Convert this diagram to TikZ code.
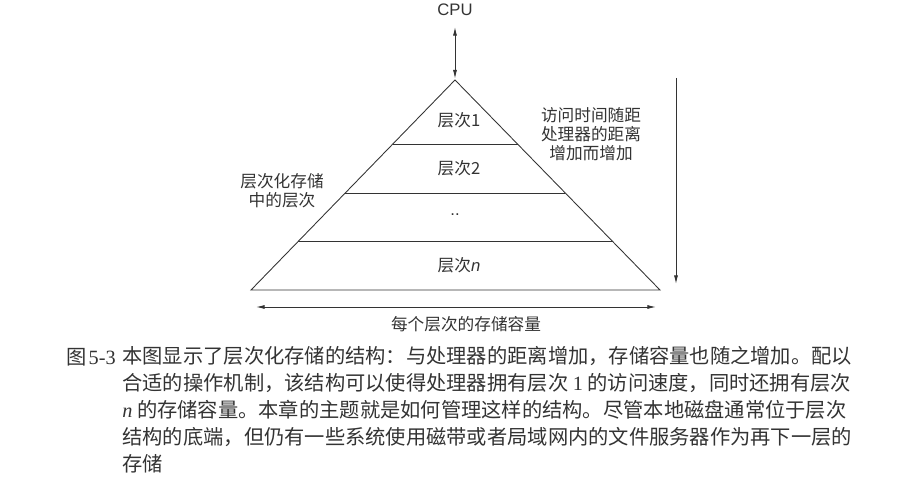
\documentclass[tikz,border=0pt]{standalone}
\usepackage{fontspec}
\setmainfont{Liberation Sans}
\newfontfamily\cjk{Noto Sans CJK SC}
\newfontfamily\capnum{Liberation Serif}
\usetikzlibrary{arrows.meta, calc}
\definecolor{ink}{HTML}{333333}

\begin{document}
\begin{tikzpicture}[x=0.75pt, y=-0.75pt, line width=0.65pt, color=ink,
  every node/.style = {inner sep=0pt, align=center, font=\cjk\fontsize{12.5}{14.3}\selectfont},
  tip/.style = {-{Latex[length=6.5pt, width=3pt]}},
  tips/.style = {{Latex[length=6.5pt, width=3pt]}-{Latex[length=6.5pt, width=3pt]}},
  captext/.style = {font=\cjk\fontsize{15.2}{20.3}\selectfont}]

  \useasboundingbox (0,0) rectangle (904,492);

  \coordinate (apex) at (455,80);
  \coordinate (bl) at (251,290);
  \coordinate (br) at (660,290);
  \draw (apex) -- (bl) -- (br) -- cycle;
  \foreach \t in {0.305, 0.538, 0.771}
    \draw ($(apex)!\t!(bl)$) -- ($(apex)!\t!(br)$);

  \node (cpu) at (455,10) {\rmfamily CPU};
  \draw[tips, shorten >=1pt] ([yshift=-8pt]cpu.south) -- (apex);

  \node (lvl1) at (459,120) {层次1};
  \node (lvl2) at (459,168) {层次2};
  \node (lvldots) at (455,215) {\rmfamily ..};
  \node (lvln) at (459,265) {层次{\rmfamily\itshape n}};

  \node (access) at (591,134) {访问时间随距\\处理器的距离\\增加而增加};
  \node (levels) at (282,191) {层次化存储\\中的层次};

  \coordinate (farTop) at (676,78);
  \coordinate (farBot) at (676,284);
  \draw[tip] (farTop) -- (farBot);

  \coordinate (capL) at (256,307);
  \coordinate (capR) at (656,307);
  \draw[tips] (capL) -- (capR);
  \node (capacity) at (466,324) {每个层次的存储容量};

  \node[anchor=west, font=\capnum\fontsize{15.2}{20.3}\selectfont] (fignum) at (66,357) {{\cjk 图}\hspace{1.5pt}5-3};
  \node[captext, anchor=north west, align=left] (caption) at (122,346) {本图显示了层次化存储的结构：与处理器的距离增加，存储容量也随之增加。配以\\
    合适的操作机制，该结构可以使得处理器拥有层次 {\capnum 1} 的访问速度，同时还拥有层次\\
    {\capnum\itshape n} 的存储容量。本章的主题就是如何管理这样的结构。尽管本地磁盘通常位于层次\\
    结构的底端，但仍有一些系统使用磁带或者局域网内的文件服务器作为再下一层的\\
    存储};
\end{tikzpicture}
\end{document}
